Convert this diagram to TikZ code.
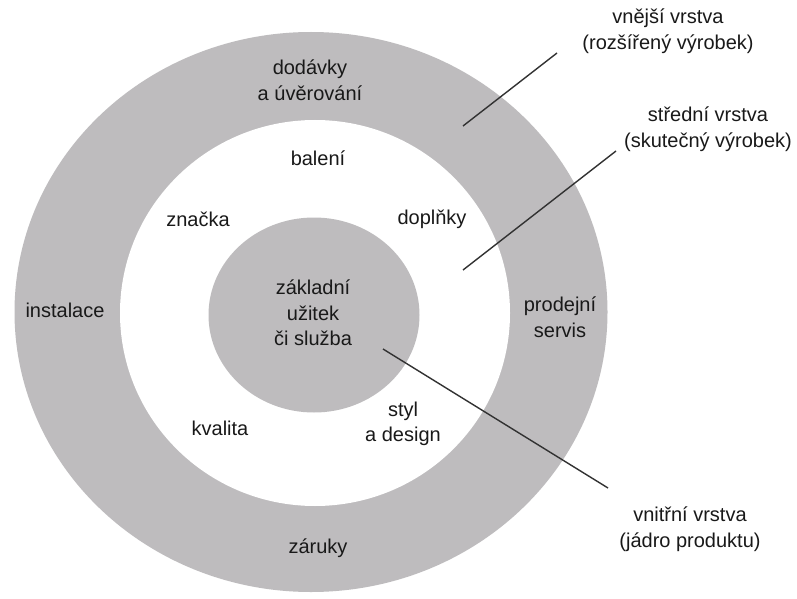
\documentclass[tikz,border=0pt]{standalone}
\usepackage{fontspec}
\setmainfont{Liberation Sans}
\usetikzlibrary{shapes.geometric}
\definecolor{ringgray}{RGB}{190,188,190}
\definecolor{txt}{RGB}{25,25,25}
\definecolor{linecol}{RGB}{50,50,50}
\tikzset{
  disc/.style={ellipse, inner sep=0pt, draw=none},
  lbl/.style={text=txt, align=center, inner sep=0pt, font=\fontsize{20}{25.5}\selectfont},
  leader/.style={draw=linecol, line width=1.4pt}
}
\begin{document}
\begin{tikzpicture}[x=1pt,y=-1pt]
\useasboundingbox (0,0) rectangle (797,599);
\fill[white] (0,0) rectangle (797,599);
\node[disc, fill=ringgray, minimum width=593pt, minimum height=560pt] (outer) at (311,312) {};
\node[disc, fill=white, minimum width=390pt, minimum height=386pt] (middle) at (315,313) {};
\node[disc, fill=ringgray, minimum width=211pt, minimum height=195pt] (inner) at (314,315) {};

\node[lbl] (dod) at (310,80) {dodávky\\a úvěrování};
\node[lbl] (bal) at (318,158) {balení};
\node[lbl] (zna) at (198,219) {značka};
\node[lbl] (dop) at (432,219) {doplňky};
\node[lbl] (ins) at (65,310) {instalace};
\node[lbl] (zak) at (313,313) {základní\\užitek\\či služba};
\node[lbl] (pro) at (560,317) {prodejní\\servis};
\node[lbl] (kva) at (220,428) {kvalita};
\node[lbl] (sty) at (403,424) {styl\\a design};
\node[lbl] (zar) at (318,548) {záruky};

\node[lbl] (vne) at (668,31) {vnější vrstva\\(rozšířený výrobek)};
\node[lbl] (str) at (708,129) {střední vrstva\\(skutečný výrobek)};
\node[lbl] (vni) at (690,529) {vnitřní vrstva\\(jádro produktu)};

\coordinate (a1) at (463,126);
\coordinate (a2) at (557,53);
\coordinate (b1) at (463,270);
\coordinate (b2) at (616,151);
\coordinate (c1) at (383,349);
\coordinate (c2) at (608,488);
\draw[leader] (a1) -- (a2);
\draw[leader] (b1) -- (b2);
\draw[leader] (c1) -- (c2);
\end{tikzpicture}
\end{document}
